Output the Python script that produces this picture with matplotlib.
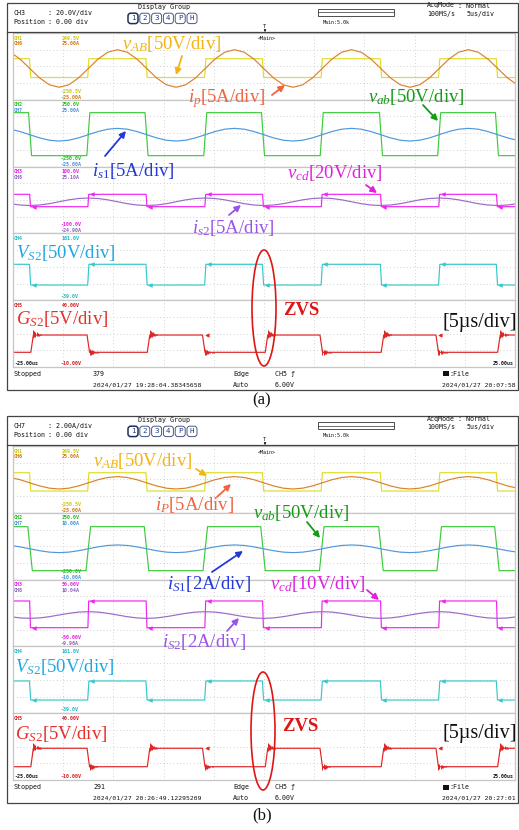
import numpy as np
import matplotlib
matplotlib.use('Agg')
import matplotlib.pyplot as plt
from matplotlib.patches import Ellipse, Rectangle, FancyBboxPatch

W, H = 519, 830
plt.rcParams.update({
    'mathtext.fontset': 'custom',
    'mathtext.rm': 'Liberation Serif',
    'mathtext.it': 'Liberation Serif:italic',
    'mathtext.bf': 'Liberation Serif:bold',
})

# ---------------- data : time in microseconds, amplitudes in scope divisions ----------------
T_SINE = [-25.27, -24.30, -23.33, -22.35, -21.38, -20.41, -19.44, -18.47,
          -17.50, -16.53, -15.56, -14.59, -13.62, -12.65, -11.68, -10.70,
          -9.73, -8.76, -7.79, -6.82, -5.85, -4.88, -3.91, -2.94,
          -1.97, -1.00, -0.03, 0.95, 1.92, 2.89, 3.86, 4.83,
          5.80, 6.77, 7.74, 8.71, 9.68, 10.65, 11.63, 12.60,
          13.57, 14.54, 15.51, 16.48, 17.45, 18.42, 19.39, 20.36,
          21.33, 22.30, 23.28, 24.25, 25.22]

# panel (a)
IP_A = [1.70, 0.88, -0.25, -1.38, -2.20, -2.50, -2.20, -1.38,
        -0.25, 0.88, 1.70, 2.00, 1.70, 0.88, -0.25, -1.38,
        -2.20, -2.50, -2.20, -1.38, -0.25, 0.88, 1.70, 2.00,
        1.70, 0.88, -0.25, -1.38, -2.20, -2.50, -2.20, -1.38,
        -0.25, 0.88, 1.70, 2.00, 1.70, 0.88, -0.25, -1.38,
        -2.20, -2.50, -2.20, -1.38, -0.25, 0.88, 1.70, 2.00,
        1.70, 0.88, -0.25, -1.38, -2.20]
IS1_A = [0.48, 0.20, -0.18, -0.56, -0.84, -0.94, -0.84, -0.56,
         -0.18, 0.20, 0.48, 0.58, 0.48, 0.20, -0.18, -0.56,
         -0.84, -0.94, -0.84, -0.56, -0.18, 0.20, 0.48, 0.58,
         0.48, 0.20, -0.18, -0.56, -0.84, -0.94, -0.84, -0.56,
         -0.18, 0.20, 0.48, 0.58, 0.48, 0.20, -0.18, -0.56,
         -0.84, -0.94, -0.84, -0.56, -0.18, 0.20, 0.48, 0.58,
         0.48, 0.20, -0.18, -0.56, -0.84]
IS2_A = [-0.44, -0.60, -0.66, -0.60, -0.44, -0.21, 0.02, 0.18,
         0.24, 0.18, 0.02, -0.21, -0.44, -0.60, -0.66, -0.60,
         -0.44, -0.21, 0.02, 0.18, 0.24, 0.18, 0.02, -0.21,
         -0.44, -0.60, -0.66, -0.60, -0.44, -0.21, 0.02, 0.18,
         0.24, 0.18, 0.02, -0.21, -0.44, -0.60, -0.66, -0.60,
         -0.44, -0.21, 0.02, 0.18, 0.24, 0.18, 0.02, -0.21,
         -0.44, -0.60, -0.66, -0.60, -0.44]
# panel (b)
IP_B = [0.23, -0.04, -0.41, -0.78, -1.05, -1.15, -1.05, -0.78,
        -0.41, -0.04, 0.23, 0.33, 0.23, -0.04, -0.41, -0.78,
        -1.05, -1.15, -1.05, -0.78, -0.41, -0.04, 0.23, 0.33,
        0.23, -0.04, -0.41, -0.78, -1.05, -1.15, -1.05, -0.78,
        -0.41, -0.04, 0.23, 0.33, 0.23, -0.04, -0.41, -0.78,
        -1.05, -1.15, -1.05, -0.78, -0.41, -0.04, 0.23, 0.33,
        0.23, -0.04, -0.41, -0.78, -1.05]
IS1_B = [0.09, -0.08, -0.31, -0.54, -0.71, -0.77, -0.71, -0.54,
         -0.31, -0.08, 0.09, 0.15, 0.09, -0.08, -0.31, -0.54,
         -0.71, -0.77, -0.71, -0.54, -0.31, -0.08, 0.09, 0.15,
         0.09, -0.08, -0.31, -0.54, -0.71, -0.77, -0.71, -0.54,
         -0.31, -0.08, 0.09, 0.15, 0.09, -0.08, -0.31, -0.54,
         -0.71, -0.77, -0.71, -0.54, -0.31, -0.08, 0.09, 0.15,
         0.09, -0.08, -0.31, -0.54, -0.71]
IS2_B = [-0.44, -0.59, -0.64, -0.59, -0.44, -0.24, -0.04, 0.11,
         0.16, 0.11, -0.04, -0.24, -0.44, -0.59, -0.64, -0.59,
         -0.44, -0.24, -0.04, 0.11, 0.16, 0.11, -0.04, -0.24,
         -0.44, -0.59, -0.64, -0.59, -0.44, -0.24, -0.04, 0.11,
         0.16, 0.11, -0.04, -0.24, -0.44, -0.59, -0.64, -0.59,
         -0.44, -0.24, -0.04, 0.11, 0.16, 0.11, -0.04, -0.24,
         -0.44, -0.59, -0.64, -0.59, -0.44]

# square-wave switching instants (us)
EDGES_BRIDGE = [-23.3, -17.5, -11.7, -5.85, -0.1, 5.75, 11.65, 17.45, 23.2]   # starts high
EDGES_GATE = [-23.1, -17.5, -11.5, -6.0, 0.25, 5.7, 11.8, 17.25, 23.4]        # starts low

# [high, low] levels (div)
VAB_A, VAB_B = [0.92, -1.33], [0.80, -1.39]
VAB2_A, VAB2_B = [2.46, -2.69], [2.34, -2.93]
VCD_A, VCD_B = [0.68, -0.80], [1.44, -1.76]
VS2_A, VS2_B = [0.30, -2.18], [-0.14, -2.42]
GS2_A, GS2_B = [-0.17, -2.24], [-0.20, -2.41]

RING_ENV = [1.0, 0.8, 0.62, 0.48, 0.36, 0.26, 0.18, 0.12, 0.07]

# scope channel readouts per zone: (channels, top texts, bottom texts)
ZONE_TXT_A = [
    (['CH1', 'CH6'], ['249.5V', '25.00A'], ['-250.5V', '-25.00A']),
    (['CH2', 'CH7'], ['250.0V', '25.00A'], ['-250.0V', '-25.00A']),
    (['CH3', 'CH8'], ['100.0V', '25.10A'], ['-100.0V', '-24.90A']),
    (['CH4'], ['161.0V'], ['-39.0V']),
    (['CH5'], ['40.00V'], ['-10.00V']),
]
ZONE_TXT_B = [
    (['CH1', 'CH6'], ['249.5V', '25.00A'], ['-250.5V', '-25.00A']),
    (['CH2', 'CH7'], ['250.0V', '10.00A'], ['-250.0V', '-10.00A']),
    (['CH3', 'CH8'], ['50.00V', '10.04A'], ['-50.00V', '-9.96A']),
    (['CH4'], ['161.0V'], ['-39.0V']),
    (['CH5'], ['40.00V'], ['-10.00V']),
]
HEAD_CH = ['CH3', 'CH7']
HEAD_SCALE = [': 20.0V/div', ': 2.00A/div']
INFO_COUNT = ['379', '291']
INFO_TIME = ['2024/01/27 19:28:04.38345658', '2024/01/27 20:26:49.12295209']
SAVE_TIME = ['2024/01/27 20:07:58', '2024/01/27 20:27:01']

LABELS_A = [
    (r'$v_{AB}$[50V/div]', 122, 44), (r'$i_{p}$[5A/div]', 188, 99),
    (r'$v_{ab}$[50V/div]', 368, 97), (r'$i_{s1}$[5A/div]', 92, 171),
    (r'$v_{cd}$[20V/div]', 287, 173), (r'$i_{s2}$[5A/div]', 192, 228),
    (r'$V_{S2}$[50V/div]', 16, 253), (r'$G_{S2}$[5V/div]', 16, 319),
]
LABELS_B = [
    (r'$v_{AB}$[50V/div]', 93, 461), (r'$i_{P}$[5A/div]', 155, 505),
    (r'$v_{ab}$[50V/div]', 253, 513), (r'$i_{S1}$[2A/div]', 167, 584),
    (r'$v_{cd}$[10V/div]', 270, 584), (r'$i_{S2}$[2A/div]', 162, 642),
    (r'$V_{S2}$[50V/div]', 15, 667), (r'$G_{S2}$[5V/div]', 15, 734),
]
ARROWS_A = [((182, 56), (176, 75)), ((272, 95), (285, 85)), ((423, 105), (438, 121)),
            ((105, 156), (126, 131)), ((366, 185), (377, 193)), ((229, 215), (241, 205))]
ARROWS_B = [((196, 469), (207, 476)), ((217, 497), (231, 484)), ((307, 522), (320, 538)),
            ((212, 572), (243, 551)), ((367, 590), (379, 600)), ((227, 631), (239, 618))]
LABEL_COLORS = ['#F2B515', '#F2643F', '#169B16', '#2438DA', '#DD22DD', '#9955E6', '#1FA8E2', '#E3302A']
CH_COLORS = {'CH1': '#C8C810', 'CH6': '#D07818', 'CH2': '#22BB22', 'CH7': '#4A8FD8',
             'CH3': '#E020E0', 'CH8': '#9060C0', 'CH4': '#20B8C8', 'CH5': '#D02020'}

C_Y, C_O, C_G, C_B = '#E0DC28', '#D9822B', '#3CCB3C', '#4E98DC'
C_M, C_P, C_C, C_R = '#F025F0', '#9A6AC8', '#36C8CC', '#E02424'

PANELS = [
    dict(frame=(7, 3, 518, 390), hline=32, screen=(13, 33, 515, 367), off=0, cap='(a)', cap_y=400,
         sines=(IP_A, IS1_A, IS2_A), lv=(VAB_A, VAB2_A, VCD_A, VS2_A, GS2_A), gslope=0.3,
         txt=ZONE_TXT_A, labels=LABELS_A, arrows=ARROWS_A, ell=(264, 308, 24, 116), zvs=(283, 310)),
    dict(frame=(7, 416, 518, 803), hline=445, screen=(13, 446, 515, 780), off=413, cap='(b)', cap_y=815,
         sines=(IP_B, IS1_B, IS2_B), lv=(VAB_B, VAB2_B, VCD_B, VS2_B, GS2_B), gslope=0.45,
         txt=ZONE_TXT_B, labels=LABELS_B, arrows=ARROWS_B, ell=(263, 731, 24, 118), zvs=(282, 726)),
]

MONO = 'DejaVu Sans Mono'
SERIF = 'Liberation Serif'

fig = plt.figure(figsize=(W / 100, H / 100), dpi=100)
fig.patch.set_facecolor('white')


def square(edges, levels, start_high, slope):
    hi, lo = levels
    cur = start_high
    t, v = [-25.0], [hi if cur else lo]
    for e in edges:
        v0 = hi if cur else lo
        cur = not cur
        v1 = hi if cur else lo
        t += [e - slope / 2, e + slope / 2]
        v += [v0, v1]
    t.append(25.0)
    v.append(hi if cur else lo)
    return t, v


def edge_marks(ax, edges, levels, start_high, color, dt=0.35, ms=2.6):
    hi, lo = levels
    cur = start_high
    xs, ys = [], []
    for e in edges:
        cur = not cur
        xs.append(e + dt)
        ys.append(hi if cur else lo)
    ax.plot(xs, ys, ls='none', marker='<', ms=ms, color=color, mec=color, mew=0.5)


def ringing(ax, edges, levels, start_high, color, up, dn, fall, step=0.11):
    hi, lo = levels
    cur = start_high
    xs, y0, y1 = [], [], []
    for e in edges:
        cur = not cur
        for i, g in enumerate(RING_ENV):
            xs.append(e + 0.12 + i * step)
            if cur:
                y0.append(hi - dn * g); y1.append(hi + up * g)
            else:
                y0.append(lo - fall * g); y1.append(lo + fall * g)
    ax.vlines(xs, y0, y1, color=color, lw=0.7)


ov = fig.add_axes([0, 0, 1, 1], zorder=10)
ov.set_xlim(0, W)
ov.set_ylim(H, 0)
ov.axis('off')
ov.patch.set_alpha(0)


def t(x, y, s, size=4.8, color='#111111', **kw):
    ov.text(x, y, s, fontsize=size, color=color, family=MONO, va='center', **kw)


for i, P in enumerate(PANELS):
    x0, y0, x1, y1 = P['screen']
    off = P['off']
    zh = (y1 - y0) / 5
    zones = []
    for k in range(5):
        ax = fig.add_axes([x0 / W, 1 - (y0 + (k + 1) * zh) / H, (x1 - x0) / W, zh / H])
        ax.set_xlim(-25, 25)
        ax.set_ylim(-4, 4)
        ax.set_xticks(np.arange(-20, 25, 5))
        ax.set_yticks([-2, 0, 2])
        ax.grid(True, color='#c4c4c4', lw=0.6, ls=(0, (1, 3)))
        ax.tick_params(length=0, labelbottom=False, labelleft=False)
        for s in ax.spines.values():
            s.set_color('#c6c6c6')
            s.set_linewidth(0.9)
        zones.append(ax)

    ip, is1, is2 = P['sines']
    vab_l, vab2_l, vcd_l, vs2_l, gs2_l = P['lv']
    lw = 0.85
    # zone 1: vAB, ip
    zones[0].plot(*square(EDGES_BRIDGE, vab_l, True, 0.12), color=C_Y, lw=lw)
    zones[0].plot(T_SINE, ip, color=C_O, lw=lw)
    # zone 2: vab, is1
    zones[1].plot(*square(EDGES_BRIDGE, vab2_l, True, P['gslope']), color=C_G, lw=lw)
    zones[1].plot(T_SINE, is1, color=C_B, lw=lw)
    # zone 3: vcd, is2
    zones[2].plot(*square(EDGES_BRIDGE, vcd_l, True, 0.08), color=C_M, lw=lw)
    edge_marks(zones[2], EDGES_BRIDGE, vcd_l, True, C_M)
    zones[2].plot(T_SINE, is2, color=C_P, lw=lw)
    # zone 4: VS2
    zones[3].plot(*square(EDGES_BRIDGE, vs2_l, True, 0.12), color=C_C, lw=lw)
    edge_marks(zones[3], EDGES_BRIDGE, vs2_l, True, C_C)
    # zone 5: GS2
    zones[4].plot(*square(EDGES_GATE, gs2_l, False, 0.25), color=C_R, lw=lw)
    ringing(zones[4], EDGES_GATE, gs2_l, False, C_R, up=0.65, dn=0.3, fall=0.35)
    edge_marks(zones[4], EDGES_GATE[1::2], gs2_l, True, C_R, dt=0.3, ms=2.4)

    # frame and header
    fx0, fy0, fx1, fy1 = P['frame']
    ov.add_patch(Rectangle((fx0, fy0), fx1 - fx0, fy1 - fy0, fill=False, ec='#444444', lw=0.9))
    ov.plot([fx0, fx1], [P['hline'], P['hline']], color='#444444', lw=0.9)
    t(13, 13 + off, HEAD_CH[i])
    t(48, 13 + off, HEAD_SCALE[i])
    t(13, 21.5 + off, 'Position')
    t(48, 21.5 + off, ': 0.00 div')
    t(164, 6.5 + off, 'Display Group', ha='center')
    for j, ch in enumerate(['1', '2', '3', '4', 'P', 'H']):
        cx = 133 + 11.8 * j
        ov.add_patch(FancyBboxPatch((cx - 4.2, 14 + off), 8.4, 8.8,
                                    boxstyle='round,pad=0.8,rounding_size=2.8',
                                    fc='white', ec='#1f2f5a' if j == 0 else '#4a5a80',
                                    lw=1.1 if j == 0 else 0.7))
        t(cx, 18.4 + off, ch, size=5.4, color='#1F3C88', ha='center')
    ov.add_patch(Rectangle((318, 9 + off), 76, 7, fill=False, ec='#333333', lw=0.6))
    ov.plot([318, 394], [12.5 + off, 12.5 + off], color='#333333', lw=0.5)
    t(323, 22.5 + off, 'Main:5.0k', size=3.6)
    t(427, 5.5 + off, 'AcqMode')
    t(458, 5.5 + off, ': Normal')
    t(427, 14 + off, '100MS/s')
    t(467, 14 + off, '5us/div')
    t(265, 26.5 + off, 'T', size=4, ha='center')
    ov.annotate('', xy=(265, 32 + off), xytext=(265, 27 + off),
                arrowprops=dict(arrowstyle='-|>', color='#111111', lw=0.5, mutation_scale=3))
    t(258, 39 + off, '<Main>', size=3.6)

    # zone readouts
    for k, (chs, tops, bots) in enumerate(P['txt']):
        zt = y0 + k * zh
        zb = zt + zh
        for j, ch in enumerate(chs):
            col = CH_COLORS[ch]
            t(14, zt + 5 + 5.5 * j, ch, size=3.6, color=col, weight='bold')
            t(62, zt + 5 + 5.5 * j, tops[j], size=3.6, color=col, weight='bold')
            yb = zb - (8.5 - 6 * j if len(chs) == 2 else 4)
            t(60, yb, bots[j], size=3.6, color=col, weight='bold')
    t(14, y1 - 4, '-25.00us', size=3.6, weight='bold')
    t(514, y1 - 4, '25.00us', size=3.6, weight='bold', ha='right')

    # info bar
    yi1, yi2 = 374 + off, 385 + off
    t(13, yi1, 'Stopped')
    t(93, yi1, INFO_COUNT[i])
    t(93, yi2, INFO_TIME[i], size=4.6)
    t(233, yi1, 'Edge')
    t(233, yi2, 'Auto')
    t(275, yi1, 'CH5 \u0192')
    t(275, yi2, '6.00V')
    ov.add_patch(Rectangle((443, yi1 - 2.5), 6, 5, fc='#111111', ec='none'))
    t(449, yi1, ':File')
    t(516, yi2, SAVE_TIME[i], size=4.6, ha='right')

    # annotations
    for (s, lx, ly), col in zip(P['labels'], LABEL_COLORS):
        ov.text(lx, ly, s, fontsize=13.5, color=col, family=SERIF, va='center', ha='left')
    for (tail, head), col in zip(P['arrows'], LABEL_COLORS):
        ov.annotate('', xy=head, xytext=tail,
                    arrowprops=dict(arrowstyle='-|>', color=col, lw=1.3, mutation_scale=9,
                                    shrinkA=0, shrinkB=0))
    ex, ey, ew, eh = P['ell']
    ov.add_patch(Ellipse((ex, ey), ew, eh, fill=False, ec='#E01515', lw=1.2))
    ov.text(P['zvs'][0], P['zvs'][1], 'ZVS', fontsize=13.5, color='#E01515', family=SERIF,
            weight='bold', va='center', ha='left')
    ov.text(517, P['zvs'][1] + 12 - (5 if i else 0), '[5\u00b5s/div]', fontsize=14.5, color='#111111',
            family=SERIF, va='center', ha='right')
    ov.text(262, P['cap_y'], P['cap'], fontsize=12, color='#111111', family=SERIF, va='center', ha='center')

fig.savefig('out.png', dpi=100, facecolor='white')
